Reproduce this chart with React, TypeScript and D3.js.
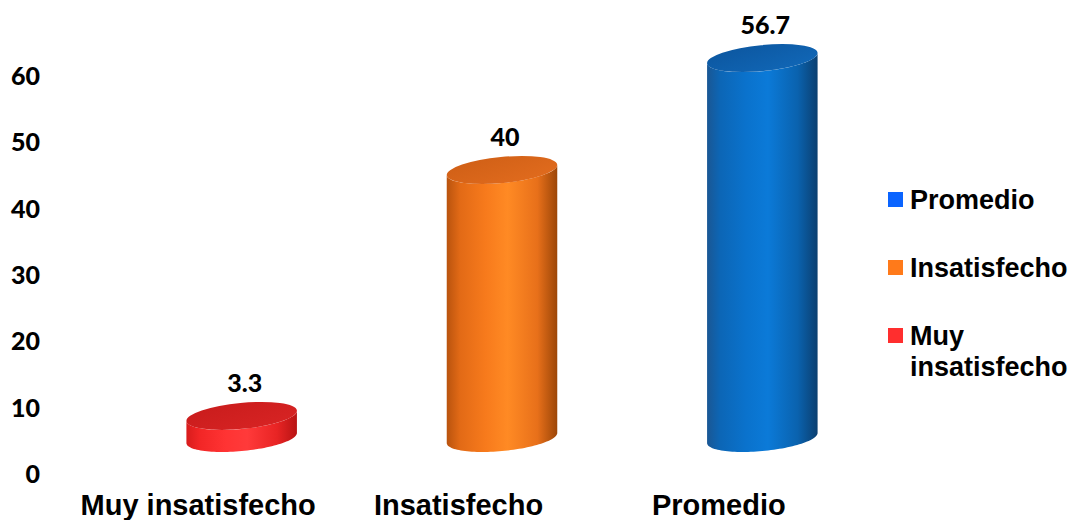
import React from "react";
import * as d3 from "d3";

const categories = ["Muy insatisfecho", "Insatisfecho", "Promedio"];
const values = [3.3, 40, 56.7];
const valueLabels = ["3.3", "40", "56.7"];
const yTicks = [0, 10, 20, 30, 40, 50, 60];
const legendOrder = ["Promedio", "Insatisfecho", "Muy insatisfecho"];

const palette: Record<string, { swatch: string; body: string[]; top: string[] }> = {
  "Muy insatisfecho": {
    swatch: "#ff2e2e",
    body: ["#d81c1c", "#f22626", "#ff3333", "#ff3a3a", "#e82424", "#b81414"],
    top: ["#c91c1c", "#d82424"],
  },
  Insatisfecho: {
    swatch: "#ff7a1a",
    body: ["#b9530e", "#e26a16", "#f77a1c", "#ff8a24", "#e8701a", "#9c4608"],
    top: ["#cf5f16", "#e26c1e"],
  },
  Promedio: {
    swatch: "#0a64ff",
    body: ["#1a5794", "#0c66b6", "#0a72cc", "#0b7ad8", "#0a62ae", "#0b3f70"],
    top: ["#0c569f", "#1168b8"],
  },
};

const W = 1074;
const H = 520;

export default function App() {
  const x = d3.scaleBand<string>().domain(categories).range([68, 849]).paddingInner(0).paddingOuter(0);
  const y = d3.scaleLinear().domain([0, 60]).range([473, 75]);
  // front plane of the 3D bars (shifted by depth)
  const depthX = 43.5;
  const yBar = d3.scaleLinear().domain([0, 60]).range([438, 36]);

  const a = 55.5;
  const b = 13;
  const thDeg = -5.5;
  const th = (thDeg * Math.PI) / 180;
  const pt = (cx: number, cy: number, t: number): [number, number] => [
    cx + a * Math.cos(t) * Math.cos(th) - b * Math.sin(t) * Math.sin(th),
    cy + a * Math.cos(t) * Math.sin(th) + b * Math.sin(t) * Math.cos(th),
  ];
  const t1 = Math.atan(-(b * Math.sin(th)) / (a * Math.cos(th)));
  const line = d3.line();

  const bodyPath = (cx: number, cyTop: number, cyBot: number) => {
    const pts: [number, number][] = [];
    const n = 60;
    for (let i = 0; i <= n; i++) pts.push(pt(cx, cyBot, t1 + (Math.PI * i) / n));
    for (let i = 0; i <= n; i++) pts.push(pt(cx, cyTop, t1 + Math.PI - (Math.PI * i) / n));
    return line(pts) + "Z";
  };

  const gradStops = [0, 0.12, 0.35, 0.55, 0.82, 1];

  return (
    <svg width={W} height={H} style={{ position: "absolute", left: 0, top: 0, background: "#fff" }}>
      <defs>
        {categories.map((c, i) => (
          <React.Fragment key={c}>
            <linearGradient id={`body${i}`} x1="0" y1="0" x2="1" y2="0">
              {palette[c].body.map((col, k) => (
                <stop key={k} offset={gradStops[k]} stopColor={col} />
              ))}
            </linearGradient>
            <linearGradient id={`top${i}`} x1="0" y1="0" x2="1" y2="1">
              <stop offset="0" stopColor={palette[c].top[0]} />
              <stop offset="1" stopColor={palette[c].top[1]} />
            </linearGradient>
          </React.Fragment>
        ))}
      </defs>

      {yTicks.map((t) => (
        <text
          key={t}
          x={40}
          y={y(t)}
          textAnchor="end"
          dominantBaseline="central"
          fontFamily="Lato, 'Open Sans', sans-serif"
          fontWeight={900}
          fontSize={25}
          fill="#000"
        >
          {t}
        </text>
      ))}

      {categories.map((c, i) => {
        const cx = (x(c) as number) + x.bandwidth() / 2 + depthX;
        const cyBot = yBar(0);
        const cyTop = yBar(values[i]);
        return (
          <g key={c}>
            <path d={bodyPath(cx, cyTop, cyBot)} fill={`url(#body${i})`} />
            <ellipse
              cx={cx}
              cy={cyTop}
              rx={a}
              ry={b}
              transform={`rotate(${thDeg} ${cx} ${cyTop})`}
              fill={`url(#top${i})`}
            />
            <text
              x={cx + 3}
              y={cyTop - 24}
              textAnchor="middle"
              fontFamily="Lato, 'Open Sans', sans-serif"
              fontWeight={900}
              fontSize={25}
              fill="#000"
            >
              {valueLabels[i]}
            </text>
          </g>
        );
      })}

      {categories.map((c) => (
        <text
          key={c}
          x={(x(c) as number) + x.bandwidth() / 2}
          y={515}
          textAnchor="middle"
          fontFamily="'Liberation Sans', Arial, sans-serif"
          fontWeight="bold"
          fontSize={29}
          fill="#000"
        >
          {c}
        </text>
      ))}

      {legendOrder.map((c, i) => {
        const top = 192 + i * 68;
        const words = c === "Muy insatisfecho" ? ["Muy", "insatisfecho"] : [c];
        return (
          <g key={c}>
            <rect x={888} y={top} width={15} height={15} fill={palette[c].swatch} />
            <text
              x={910}
              y={top + 17}
              fontFamily="'Liberation Sans', Arial, sans-serif"
              fontWeight="bold"
              fontSize={27}
              fill="#000"
            >
              {words.map((w, k) => (
                <tspan key={k} x={910} dy={k === 0 ? 0 : 31}>
                  {w}
                </tspan>
              ))}
            </text>
          </g>
        );
      })}
    </svg>
  );
}
